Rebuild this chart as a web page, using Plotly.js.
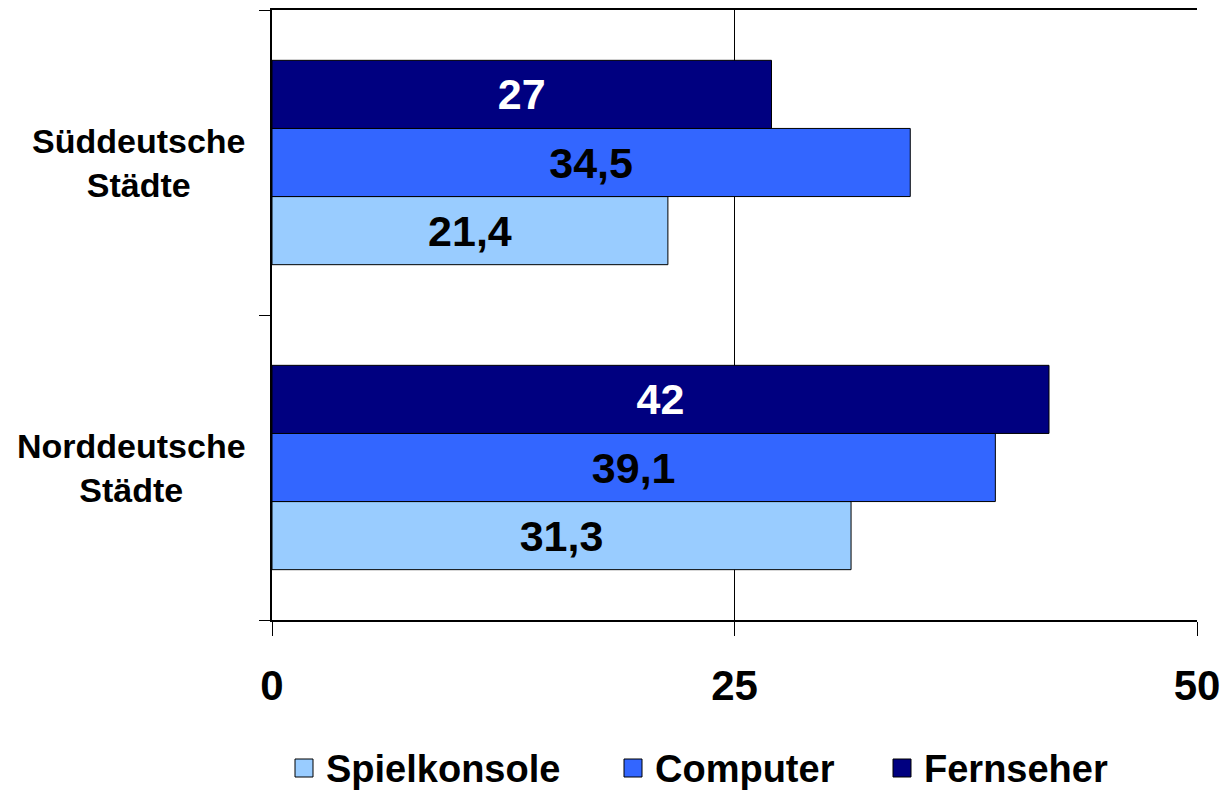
<!DOCTYPE html>
<html>
<head>
<meta charset="utf-8">
<script src="https://cdn.plot.ly/plotly-3.0.1.min.js"></script>
<style>html,body{margin:0;padding:0;background:#fff;}#chart{width:1222px;height:790px;}</style>
</head>
<body>
<div id="chart"></div>
<script>
const categories = ['Norddeutsche Städte', 'Süddeutsche Städte'];
const categoryLabels = ['Norddeutsche<br>Städte', 'Süddeutsche<br>Städte'];
const seriesNames = ['Spielkonsole', 'Computer', 'Fernseher'];
const spielkonsole = [31.3, 21.4];
const computer = [39.1, 34.5];
const fernseher = [42, 27];
const seriesValues = [spielkonsole, computer, fernseher];
const colors = ['#99CCFF', '#3366FF', '#000080'];
const textColors = ['#000000', '#000000', '#FFFFFF'];
const xTicks = [0, 25, 50];

const FONT = 'Liberation Sans, Arial, sans-serif';
const fmt = v => String(v).replace('.', ',');

const traces = seriesNames.map((name, i) => ({
  type: 'bar',
  orientation: 'h',
  name: name,
  y: categories,
  x: seriesValues[i],
  text: seriesValues[i].map(fmt),
  textposition: 'inside',
  insidetextanchor: 'middle',
  textangle: 0,
  textfont: {family: FONT, size: 43, color: textColors[i], weight: 'bold'},
  marker: {color: colors[i], line: {color: '#000000', width: 1}},
  showlegend: false,
  hoverinfo: 'skip'
}));

// plot area in pixels (for converting legend placement to paper coords)
const M = {l: 272, r: 25, t: 10, b: 170};
const W = 1222, H = 790;
const pw = W - M.l - M.r, ph = H - M.t - M.b;
const px = x => (x - M.l) / pw;
const py = y => (H - M.b - y) / ph;

const labelX = [131, 138];
const annotations = categories.map((c, i) => ({
  xref: 'paper', yref: 'y', x: px(labelX[i]), y: c,
  text: '<b>' + categoryLabels[i] + '</b>',
  showarrow: false, align: 'center', xanchor: 'center', yanchor: 'middle',
  font: {family: FONT, size: 34, color: '#000'}
}));

// custom legend (bigger than native symbols)
const legendSquareX = [295, 624, 893];
const shapes = [];
seriesNames.forEach((name, i) => {
  shapes.push({type: 'rect', xref: 'paper', yref: 'paper',
    x0: px(legendSquareX[i]), x1: px(legendSquareX[i] + 18),
    y0: py(777), y1: py(759),
    fillcolor: colors[i], line: {color: '#000', width: 1}});
  annotations.push({xref: 'paper', yref: 'paper', x: px(legendSquareX[i] + 29), y: py(769),
    text: '<b>' + name + '</b>', showarrow: false, xanchor: 'left', yanchor: 'middle',
    font: {family: FONT, size: 38, color: '#000'}});
});

const layout = {
  width: W, height: H,
  margin: M,
  paper_bgcolor: '#fff', plot_bgcolor: '#fff',
  barmode: 'group', bargap: 0.33, bargroupgap: 0,
  showlegend: false,
  xaxis: {range: [0, 50], tickvals: xTicks, ticktext: xTicks.map(String),
    showgrid: true, gridcolor: '#000', gridwidth: 1, zeroline: false,
    showline: true, linecolor: '#000', linewidth: 2, mirror: true,
    ticks: 'outside', ticklen: 14, tickcolor: '#000', ticklabelstandoff: 14,
    tickfont: {family: FONT, size: 42, color: '#000', weight: 'bold'}},
  yaxis: {type: 'category', categoryarray: categories, categoryorder: 'array',
    showticklabels: false, showgrid: false, zeroline: false,
    showline: true, linecolor: '#000', linewidth: 2, mirror: false,
    ticks: 'outside', tickson: 'boundaries', ticklen: 11, tickcolor: '#000'},
  annotations: annotations,
  shapes: shapes
};

Plotly.newPlot('chart', traces, layout, {displayModeBar: false, staticPlot: true});
</script>
</body>
</html>
